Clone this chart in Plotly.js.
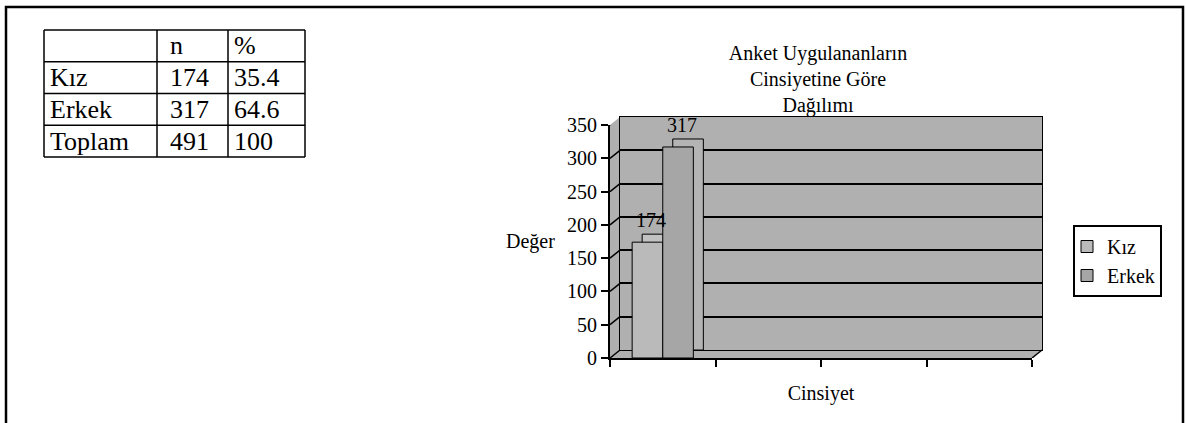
<!DOCTYPE html>
<html>
<head>
<meta charset="utf-8">
<script src="https://cdn.plot.ly/plotly-3.0.1.min.js"></script>
<style>html,body{margin:0;padding:0;background:#fff;}#chart{width:1186px;height:423px;}</style>
</head>
<body>
<div id="chart"></div>
<script>
// ---- data ----
const tableHeaders = ["", "n", "%"];
const rowLabels = ["Kız", "Erkek", "Toplam"];
const nValues = [174, 317, 491];
const pctValues = [35.4, 64.6, 100];

const seriesNames = ["Kız", "Erkek"];
const seriesValues = [174, 317];
const slots = [1];
const xBoundaryTicks = [0.5, 1.5, 2.5, 3.5, 4.5];
const yTicks = [0, 50, 100, 150, 200, 250, 300, 350];
const yRange = [0, 350];

const chartTitle = "Anket Uygulananların<br>Cinsiyetine Göre<br>Dağılımı";
const xTitle = "Cinsiyet";
const yTitle = "Değer";

// ---- styles / geometry ----
const W = 1186, H = 423;
const FONT = "Liberation Serif";
const PL = 610, PR = 1032, PT = 125, PB = 358; // front plot box (px)
const DX = 10, DY = 8;                          // 3D depth offset (px)
const fx = v => v / W, fy = v => (H - v) / H;
const a = DX / (PR - PL), b = DY / (PB - PT);
const yExtent = yRange[1] - yRange[0];
const BARGAP = 0.42;
const wallColor = "#b0b0b0";
const faceColors = ["#bababa", "#a6a6a6"];
const sideColors = ["#c2c2c2", "#b4b4b4"];

const traces = [];
// back faces (3D depth) on the shifted "wall" axes
seriesNames.forEach((name, i) => {
  traces.push({
    type: "bar", name: name, x: slots, y: [seriesValues[i]],
    xaxis: "x", yaxis: "y", showlegend: false, hoverinfo: "skip",
    marker: {color: sideColors[i], line: {color: "#000", width: 1}}
  });
});
// front faces
seriesNames.forEach((name, i) => {
  traces.push({
    type: "bar", name: name, x: slots, y: [seriesValues[i]],
    xaxis: "x2", yaxis: "y2",
    marker: {color: faceColors[i], line: {color: "#000", width: 1}}
  });
});

const shapes = [];
const annotations = [];

// outer frame
shapes.push({type: "rect", xref: "paper", yref: "paper", x0: fx(6), x1: fx(1183), y0: -0.05, y1: fy(7),
  line: {color: "#000", width: 2.5}, fillcolor: "rgba(0,0,0,0)", layer: "below"});

// grey 3D box (wall + side + floor)
shapes.push({type: "path", xref: "x domain", yref: "y domain", layer: "below",
  path: `M ${-a},${-b} L ${-a},${1 - b} L 0,1 L 1,1 L 1,0 L ${1 - a},${-b} Z`,
  fillcolor: wallColor, line: {width: 0}});

// side-wall connectors from each tick to the wall gridline
yTicks.forEach(v => {
  shapes.push({type: "line", xref: "x2 domain", yref: "y2", x0: 0, x1: a, y0: v, y1: v + yExtent * b,
    line: {color: "#000", width: 1.5}});
});
// right floor corner
shapes.push({type: "line", xref: "x2 domain", yref: "y2", x0: 1, x1: 1 + a, y0: yRange[0], y1: yRange[0] + yExtent * b,
  line: {color: "#000", width: 1.5}});

// ---- table ----
const TX = 44, TY = 30, colW = [113, 71, 77], rowH = 31.75, pads = [4, 11, 4];
const tableRows = [tableHeaders].concat(rowLabels.map((r, i) => [r, String(nValues[i]), String(pctValues[i])]));
const colX = [TX];
colW.forEach(w => colX.push(colX[colX.length - 1] + w));
for (let r = 0; r <= tableRows.length; r++) {
  shapes.push({type: "line", xref: "paper", yref: "paper", x0: fx(colX[0]), x1: fx(colX[colX.length - 1]),
    y0: fy(TY + r * rowH), y1: fy(TY + r * rowH), line: {color: "#000", width: 1.5}});
}
colX.forEach(cx => {
  shapes.push({type: "line", xref: "paper", yref: "paper", x0: fx(cx), x1: fx(cx),
    y0: fy(TY), y1: fy(TY + tableRows.length * rowH), line: {color: "#000", width: 1.5}});
});
tableRows.forEach((row, r) => {
  row.forEach((txt, c) => {
    if (!txt) return;
    annotations.push({xref: "paper", yref: "paper", x: fx(colX[c] + pads[c]), y: fy(TY + (r + 0.5) * rowH),
      xanchor: "left", yanchor: "middle", showarrow: false, text: txt,
      font: {family: FONT, size: 26, color: "#000"}});
  });
});

// data labels
const barW = (1 - BARGAP) / seriesNames.length;
seriesNames.forEach((name, i) => {
  annotations.push({xref: "x2", yref: "y2", x: slots[0] - (1 - BARGAP) / 2 + barW * (i + 0.5), y: seriesValues[i],
    xanchor: "center", yanchor: "bottom", xshift: 4, yshift: 9, showarrow: false,
    text: String(seriesValues[i]), font: {family: FONT, size: 20, color: "#000"}});
});

// y title (horizontal, like the original)
annotations.push({xref: "paper", yref: "paper", x: fx(530), y: fy(242), xanchor: "center", yanchor: "middle",
  showarrow: false, text: yTitle, font: {family: FONT, size: 20, color: "#000"}});

const layout = {
  width: W, height: H, autosize: false,
  margin: {l: 0, r: 0, t: 0, b: 0},
  paper_bgcolor: "#fff", plot_bgcolor: "rgba(0,0,0,0)",
  barmode: "group", bargap: BARGAP, bargroupgap: 0,
  font: {family: FONT, size: 20, color: "#000"},
  title: {text: chartTitle, font: {family: FONT, size: 20, color: "#000"},
    x: fx(818), xanchor: "center", y: fy(60), yanchor: "top"},
  // wall axes
  xaxis: {domain: [fx(PL + DX), fx(PR + DX)], range: [xBoundaryTicks[0], xBoundaryTicks[xBoundaryTicks.length - 1]],
    showticklabels: false, ticks: "", showgrid: false, zeroline: false,
    showline: true, mirror: true, linecolor: "#000", linewidth: 1, anchor: "y", fixedrange: true},
  yaxis: {domain: [fy(PB - DY), fy(PT - DY)], range: yRange, tickvals: yTicks.slice(1, -1),
    showticklabels: false, ticks: "", showgrid: true, gridcolor: "#000", gridwidth: 2, zeroline: false,
    showline: true, mirror: true, linecolor: "#000", linewidth: 1, anchor: "x", fixedrange: true},
  // front axes
  xaxis2: {domain: [fx(PL), fx(PR)], range: [xBoundaryTicks[0], xBoundaryTicks[xBoundaryTicks.length - 1]],
    tickvals: xBoundaryTicks, showticklabels: false, ticks: "outside", ticklen: 7, tickwidth: 2, tickcolor: "#000",
    showgrid: false, zeroline: false, showline: true, linecolor: "#000", linewidth: 2, anchor: "y2",
    title: {text: xTitle, font: {family: FONT, size: 20, color: "#000"}, standoff: 20}, fixedrange: true},
  yaxis2: {domain: [fy(PB), fy(PT)], range: yRange, tickvals: yTicks,
    ticks: "outside", ticklen: 7, tickwidth: 2, tickcolor: "#000", showgrid: false, zeroline: false,
    showline: true, linecolor: "#000", linewidth: 2, anchor: "x2",
    tickfont: {family: FONT, size: 20, color: "#000"}, fixedrange: true},
  showlegend: true,
  legend: {x: fx(1073), xanchor: "left", y: fy(225), yanchor: "top",
    bordercolor: "#000", borderwidth: 2, bgcolor: "#fff", indentation: -8,
    font: {family: FONT, size: 20, color: "#000"}, itemwidth: 30},
  shapes: shapes,
  annotations: annotations
};

Plotly.newPlot("chart", traces, layout, {displayModeBar: false, staticPlot: true});
</script>
</body>
</html>
